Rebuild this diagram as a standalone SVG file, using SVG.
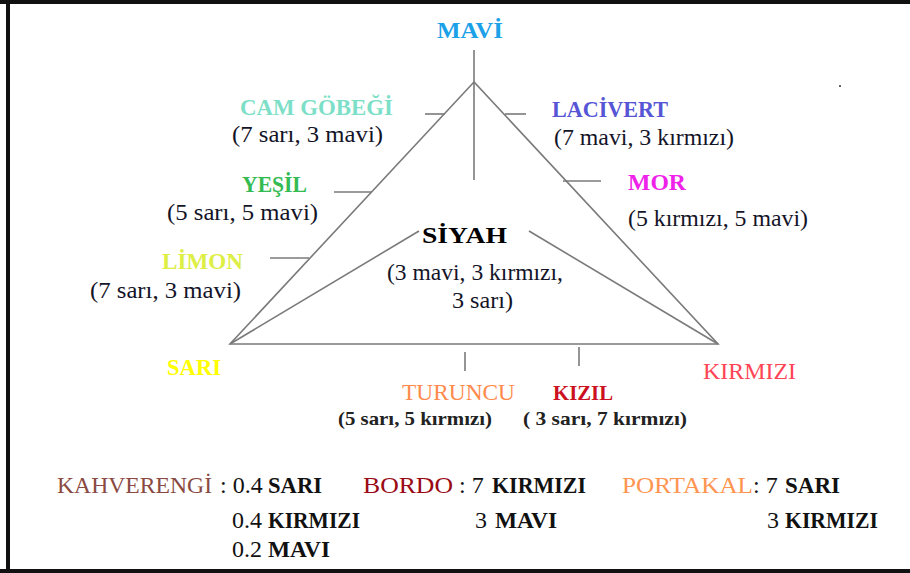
<svg xmlns="http://www.w3.org/2000/svg" width="910" height="573" viewBox="0 0 910 573" font-family="Liberation Serif, serif">
<style>
text{font-family:"Liberation Serif",serif}
.t{font-weight:bold;font-size:23px}
.p{font-size:24px;fill:#141428}
.s{font-weight:bold;font-size:19px;fill:#222}
.b{font-size:24px;fill:#111}
.bb{font-size:23px;font-weight:bold;fill:#111}
.ln{stroke:#7a7a7a;stroke-width:1.6;fill:none}
</style>
<rect x="0" y="0" width="910" height="573" fill="#fff"/>
<g id="frame">
<rect x="0" y="0" width="910" height="4" fill="#111"/>
<rect x="6" y="0" width="4" height="573" fill="#111"/>
<rect x="0" y="569" width="910" height="4" fill="#111"/>
</g>
<g id="connectors" class="ln">
<polygon points="474,82 230,344 718,344"/>
<line x1="474" y1="50" x2="474" y2="180"/>
<line x1="230" y1="344" x2="419" y2="231"/>
<line x1="718" y1="344" x2="529" y2="231"/>
<line x1="425" y1="114" x2="445" y2="114"/>
<line x1="334" y1="192" x2="372" y2="192"/>
<line x1="270" y1="258" x2="309" y2="258"/>
<line x1="505" y1="114" x2="526" y2="114"/>
<line x1="563" y1="181" x2="601" y2="181"/>
<line x1="465" y1="352" x2="465" y2="371"/>
<line x1="579" y1="347" x2="579" y2="366"/>
</g>
<g id="mavi"><text class="t" x="437" y="38" style="fill:#1BA1E8" textLength="66" lengthAdjust="spacingAndGlyphs">MAVİ</text></g>
<g id="camgobegi"><text class="t" x="240" y="115" style="fill:#7DDFC8" textLength="153" lengthAdjust="spacingAndGlyphs">CAM GÖBEĞİ</text>
<text class="p" x="232" y="142" textLength="151" lengthAdjust="spacingAndGlyphs">(7 sarı, 3 mavi)</text></g>
<g id="yesil"><text class="t" x="242" y="192" style="fill:#34BB52" textLength="65" lengthAdjust="spacingAndGlyphs">YEŞİL</text>
<text class="p" x="167" y="220" textLength="151" lengthAdjust="spacingAndGlyphs">(5 sarı, 5 mavi)</text></g>
<g id="limon"><text class="t" x="162" y="269" style="fill:#DDEE45" textLength="81" lengthAdjust="spacingAndGlyphs">LİMON</text>
<text class="p" x="90" y="298" textLength="151" lengthAdjust="spacingAndGlyphs">(7 sarı, 3 mavi)</text></g>
<g id="lacivert"><text class="t" x="552" y="117" style="fill:#5555D5" textLength="116" lengthAdjust="spacingAndGlyphs">LACİVERT</text>
<text class="p" x="554" y="145" textLength="180" lengthAdjust="spacingAndGlyphs">(7 mavi, 3 kırmızı)</text></g>
<g id="mor"><text class="t" x="628" y="190" style="fill:#EE22E8" textLength="58" lengthAdjust="spacingAndGlyphs">MOR</text>
<text class="p" x="628" y="226" textLength="180" lengthAdjust="spacingAndGlyphs">(5 kırmızı, 5 mavi)</text></g>
<g id="siyah"><text class="t" x="422" y="243" style="fill:#000;font-size:24px" textLength="85" lengthAdjust="spacingAndGlyphs">SİYAH</text>
<text class="p" x="387" y="280" textLength="176" lengthAdjust="spacingAndGlyphs">(3 mavi, 3 kırmızı,</text>
<text class="p" x="452" y="308" textLength="61" lengthAdjust="spacingAndGlyphs">3 sarı)</text></g>
<g id="sari"><text class="t" x="167" y="375" style="fill:#FFFF00" textLength="54" lengthAdjust="spacingAndGlyphs">SARI</text></g>
<g id="kirmizi"><text x="703" y="379" style="fill:#FF4455;font-size:24px" textLength="93" lengthAdjust="spacingAndGlyphs">KIRMIZI</text></g>
<g id="turuncu"><text x="402" y="400" style="fill:#FF8A4C;font-size:24px" textLength="113" lengthAdjust="spacingAndGlyphs">TURUNCU</text>
<text class="s" x="338" y="425" textLength="154" lengthAdjust="spacingAndGlyphs">(5 sarı, 5 kırmızı)</text></g>
<g id="kizil"><text class="t" x="553" y="400" style="fill:#CC1020;font-size:22px" textLength="60" lengthAdjust="spacingAndGlyphs">KIZIL</text>
<text class="s" x="523" y="425" textLength="164" lengthAdjust="spacingAndGlyphs">( 3 sarı, 7 kırmızı)</text></g>
<g id="kahverengi">
<text class="b" x="57" y="493" style="fill:#8A4A42" textLength="155" lengthAdjust="spacingAndGlyphs">KAHVERENGİ</text>
<text class="b" x="220" y="493">: 0.4</text>
<text class="bb" x="268" y="493" textLength="54" lengthAdjust="spacingAndGlyphs">SARI</text>
<text class="b" x="232" y="528">0.4</text>
<text class="bb" x="268" y="528" textLength="92" lengthAdjust="spacingAndGlyphs">KIRMIZI</text>
<text class="b" x="232" y="557">0.2</text>
<text class="bb" x="268" y="557" textLength="62" lengthAdjust="spacingAndGlyphs">MAVI</text>
</g>
<g id="bordo">
<text class="b" x="363" y="493" style="fill:#9A0A14" textLength="90" lengthAdjust="spacingAndGlyphs">BORDO</text>
<text class="b" x="459" y="493">: 7</text>
<text class="bb" x="492" y="493" textLength="94" lengthAdjust="spacingAndGlyphs">KIRMIZI</text>
<text class="b" x="475" y="528">3</text>
<text class="bb" x="495" y="528" textLength="62" lengthAdjust="spacingAndGlyphs">MAVI</text>
</g>
<g id="portakal">
<text class="b" x="622" y="493" style="fill:#FF9550" textLength="131" lengthAdjust="spacingAndGlyphs">PORTAKAL</text>
<text class="b" x="753" y="493">: 7</text>
<text class="bb" x="785" y="493" textLength="55" lengthAdjust="spacingAndGlyphs">SARI</text>
<text class="b" x="767" y="528">3</text>
<text class="bb" x="785" y="528" textLength="93" lengthAdjust="spacingAndGlyphs">KIRMIZI</text>
</g>
<circle cx="840" cy="86" r="1" fill="#333"/>
</svg>
